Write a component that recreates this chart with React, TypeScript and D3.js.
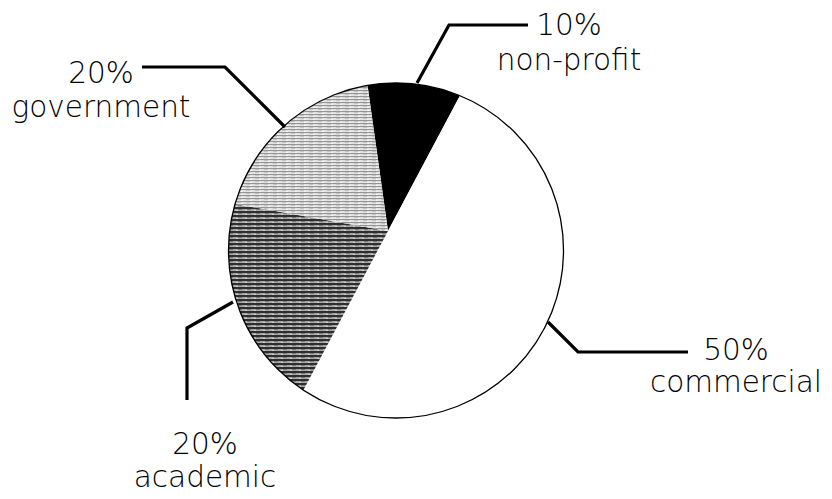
import React from "react";
import * as d3 from "d3";

const categories = ["non-profit", "commercial", "academic", "government"];
const shares = [10, 50, 20, 20];
const shareLabels = ["10%", "50%", "20%", "20%"];

const W = 832;
const H = 499;
const circle = { cx: 396, cy: 250.5, r: 167.5 };
const vertex = { x: 388, y: 231 };
const startDeg = -8;

const fills: Record<string, string> = {
  "non-profit": "#000",
  commercial: "#fff",
  academic: "url(#patAcademic)",
  government: "url(#patGov)",
};

// label layout (annotation geometry)
const labelLayout: Record<string, { cx: number; y1: number; y2: number; leader: [number, number][] }> = {
  government: { cx: 101, y1: 83, y2: 117, leader: [[142, 67], [225, 67], [285, 127]] },
  "non-profit": { cx: 569, y1: 35, y2: 70, leader: [[417, 83], [449, 25], [528, 25]] },
  commercial: { cx: 736, y1: 360, y2: 392, leader: [[548, 322], [578, 352], [688, 352]] },
  academic: { cx: 205, y1: 454, y2: 487, leader: [[233, 302], [187, 328], [187, 400]] },
};

export default function App() {
  const data = categories.map((c, i) => ({ cat: c, value: shares[i], label: shareLabels[i] }));
  const pie = d3
    .pie<any>()
    .sort(null)
    .value((d: any) => d.value)
    .startAngle((startDeg * Math.PI) / 180)
    .endAngle(((startDeg + 360) * Math.PI) / 180);
  const arcs = pie(data);
  const arc = d3.arc<any>().innerRadius(0).outerRadius(420);
  const line = d3.line();

  return (
    <svg width={W} height={H} style={{ position: "absolute", left: 0, top: 0, background: "#fff" }}>
      <defs>
        <clipPath id="pieClip">
          <circle cx={circle.cx} cy={circle.cy} r={circle.r} />
        </clipPath>
        <pattern id="patGov" width={9} height={3} patternUnits="userSpaceOnUse">
          <rect width={9} height={3} fill="#e2e2e2" />
          <rect y={0} width={9} height={1} fill="#959595" />
          <rect x={2} y={1} width={4} height={1} fill="#c4c4c4" />
          <rect x={6} y={2} width={2} height={1} fill="#f4f4f4" />
        </pattern>
        <pattern id="patAcademic" width={9} height={4} patternUnits="userSpaceOnUse">
          <rect width={9} height={4} fill="#a8a8a8" />
          <rect y={0} width={9} height={2} fill="#2e2e2e" />
          <rect x={3} y={2} width={4} height={1} fill="#7a7a7a" />
          <rect x={1} y={3} width={2} height={1} fill="#d0d0d0" />
        </pattern>
      </defs>
      <g clipPath="url(#pieClip)">
        <circle cx={circle.cx} cy={circle.cy} r={circle.r} fill="#fff" />
        <g transform={`translate(${vertex.x},${vertex.y})`}>
          {arcs.map((a: any) => (
            <path key={a.data.cat} d={arc(a) as string} fill={fills[a.data.cat]} />
          ))}
        </g>
      </g>
      <circle cx={circle.cx} cy={circle.cy} r={circle.r} fill="none" stroke="#000" strokeWidth={1.3} />
      {arcs.map((a: any) => {
        const L = labelLayout[a.data.cat];
        return (
          <g key={"lab" + a.data.cat}>
            <path d={line(L.leader) as string} fill="none" stroke="#000" strokeWidth={3.2} strokeLinejoin="miter" />
            <text
              x={L.cx}
              y={L.y1}
              textAnchor="middle"
              fontFamily="'DejaVu Sans', sans-serif"
              fontWeight={300}
              fontSize={29.5}
              fill="#000"
            >
              {a.data.label}
            </text>
            <text
              x={L.cx}
              y={L.y2}
              textAnchor="middle"
              fontFamily="'DejaVu Sans', sans-serif"
              fontWeight={300}
              fontSize={29.5}
              fill="#000"
            >
              {a.data.cat}
            </text>
          </g>
        );
      })}
    </svg>
  );
}
